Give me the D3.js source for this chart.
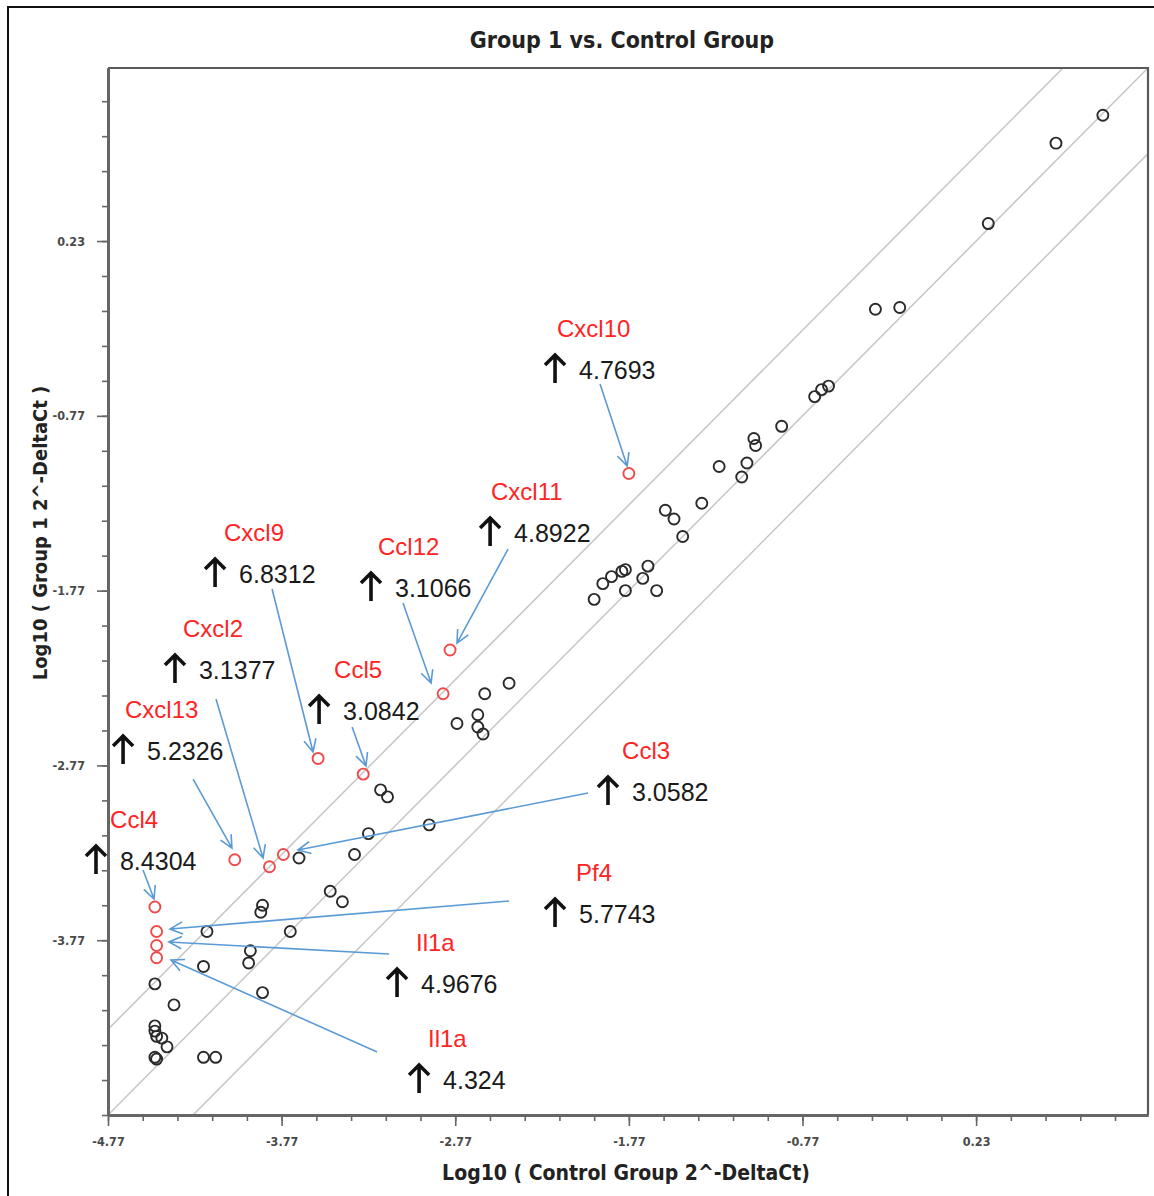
<!DOCTYPE html>
<html>
<head>
<meta charset="utf-8">
<script src="https://cdn.jsdelivr.net/npm/d3@7"></script>
<style>
  body { margin: 0; background: #fff; }
  svg { display: block; }
</style>
</head>
<body>
<svg id="chart" width="1154" height="1196"></svg>
<script>
// ---------------- DATA ----------------
const chartTitle = "Group 1 vs. Control Group";
const xAxisTitle = "Log10 ( Control Group 2^-DeltaCt)";
const yAxisTitle = "Log10 ( Group 1 2^-DeltaCt )";
const axisDomain = [-4.77, 1.22];
const xMajorTickValues = [-4.77, -3.77, -2.77, -1.77, -0.77, 0.23];
const xMajorTickLabels = ["-4.77", "-3.77", "-2.77", "-1.77", "-0.77", "0.23"];
const yMajorTickValues = [-3.77, -2.77, -1.77, -0.77, 0.23];
const yMajorTickLabels = ["-3.77", "-2.77", "-1.77", "-0.77", "0.23"];
const foldBoundary = 0.49; // log10 fold-change boundary lines

// genes without notable change (control log10, group 1 log10)
const controlLog = [0.96,0.69,0.30,-0.35,-0.21,-0.62,-0.66,-0.70,-0.89,-1.05,-1.04,-1.09,-1.25,-1.12,-1.35,-1.56,-1.51,-1.46,-1.66,-1.81,-1.79,-1.87,-1.92,-1.97,-1.79,-1.69,-1.61,-2.46,-2.60,-2.64,-2.76,-2.64,-2.61,-3.20,-3.16,-2.92,-3.27,-3.35,-3.67,-3.49,-3.42,-3.88,-3.89,-4.20,-3.72,-3.95,-3.96,-4.22,-4.50,-3.88,-4.39,-4.50,-4.50,-4.49,-4.46,-4.43,-4.50,-4.49,-4.22,-4.15];
const group1Log  = [0.95,0.79,0.33,-0.16,-0.15,-0.60,-0.62,-0.66,-0.83,-0.90,-0.94,-1.04,-1.06,-1.12,-1.27,-1.31,-1.36,-1.46,-1.63,-1.66,-1.65,-1.69,-1.73,-1.82,-1.77,-1.70,-1.77,-2.30,-2.36,-2.48,-2.53,-2.55,-2.59,-2.91,-2.95,-3.11,-3.16,-3.28,-3.30,-3.49,-3.55,-3.57,-3.61,-3.72,-3.72,-3.83,-3.90,-3.92,-4.02,-4.07,-4.14,-4.26,-4.29,-4.32,-4.33,-4.38,-4.44,-4.45,-4.44,-4.44];

// up-regulated genes
const upGenes       = ["Cxcl10","Cxcl11","Ccl12","Cxcl9","Cxcl2","Ccl5","Cxcl13","Ccl4","Ccl3","Pf4","Il1a","Il1a"];
const upControlLog  = [-1.77,-2.80,-2.84,-3.56,-3.84,-3.30,-4.04,-4.50,-3.76,-4.49,-4.49,-4.49];
const upGroup1Log   = [-1.10,-2.11,-2.36,-2.73,-3.35,-2.82,-3.31,-3.58,-3.28,-3.72,-3.80,-3.87];
const upFoldChange  = ["4.7693","4.8922","3.1066","6.8312","3.1377","3.0842","5.2326","8.4304","3.0582","5.7743","4.9676","4.324"];

// ---------------- ANNOTATION LAYOUT (data units) ----------------
const calloutValueX = [-2.057,-2.431,-3.117,-4.015,-4.246,-3.416,-4.545,-4.701,-1.752,-2.057,-2.967,-2.840];
const calloutValueY = [-0.508,-1.440,-1.755,-1.675,-2.224,-2.459,-2.688,-3.317,-2.922,-3.620,-4.021,-4.570];
const calloutNameX  = [-2.184,-2.564,-3.215,-4.102,-4.338,-3.468,-4.672,-4.758,-1.809,-2.074,-2.996,-2.927];
const leaderStart = [[-1.936,-0.588],[-2.466,-1.532],[-3.071,-1.841],[-3.825,-1.761],[-4.148,-2.390],[-3.364,-2.550],[-4.280,-2.848],[-4.568,-3.368],[-2.005,-2.928],[-2.460,-3.546],[-3.151,-3.849],[-3.220,-4.410]];
const leaderEnd   = [[-1.780,-1.057],[-2.760,-2.070],[-2.909,-2.299],[-3.589,-2.693],[-3.877,-3.300],[-3.284,-2.773],[-4.056,-3.243],[-4.505,-3.534],[-3.676,-3.254],[-4.413,-3.706],[-4.419,-3.780],[-4.407,-3.883]];

// ---------------- DRAW ----------------
const W = 1154, H = 1196;
const plot = { left: 108, right: 1148, top: 68, bottom: 1115 };
const svg = d3.select("#chart");
const condensed = "'DejaVu Sans Condensed', 'DejaVu Sans', sans-serif";
const sans = "'Liberation Sans', Arial, sans-serif";

const xs = d3.scaleLinear().domain(axisDomain).range([plot.left, plot.right]);
const ys = d3.scaleLinear().domain(axisDomain).range([plot.bottom, plot.top]);

// outer frame
svg.append("rect").attr("x", 8).attr("y", 7).attr("width", W).attr("height", H)
  .attr("fill", "none").attr("stroke", "#111").attr("stroke-width", 2);

// title
svg.append("text").attr("x", 622).attr("y", 48).attr("text-anchor", "middle")
  .attr("font-family", condensed).attr("font-weight", "bold").attr("font-size", 23)
  .attr("fill", "#222").text(chartTitle);

// clip
svg.append("defs").append("clipPath").attr("id", "plotclip").append("rect")
  .attr("x", plot.left).attr("y", plot.top)
  .attr("width", plot.right - plot.left).attr("height", plot.bottom - plot.top);

// fold-change diagonal lines
const diag = svg.append("g").attr("clip-path", "url(#plotclip)");
[foldBoundary, 0, -foldBoundary].forEach(off => {
  diag.append("line")
    .attr("x1", xs(-7)).attr("y1", ys(-7 + off))
    .attr("x2", xs(3)).attr("y2", ys(3 + off))
    .attr("stroke", "#c6c6c6").attr("stroke-width", 1.5);
});

// plot frame (top & right)
svg.append("path")
  .attr("d", `M${plot.left},${plot.top}H${plot.right}V${plot.bottom}`)
  .attr("fill", "none").attr("stroke", "#5a5a5a").attr("stroke-width", 2.2);

// axes
const minorTicks = d3.range(0, 31).map(i => +(axisDomain[0] + i * 0.2).toFixed(2)).filter(v => v <= axisDomain[1]);

function styleAxis(g) {
  g.select(".domain").attr("stroke", "#666").attr("stroke-width", 3);
  g.selectAll(".tick line").attr("stroke", "#666").attr("stroke-width", 1.6);
  g.selectAll(".tick text").attr("font-family", condensed).attr("font-weight", "bold")
    .attr("font-size", 12.5).attr("fill", "#4a4a4a");
}

const xg = svg.append("g").attr("transform", `translate(0,${plot.bottom})`);
xg.append("g").call(d3.axisBottom(xs).tickValues(minorTicks).tickSize(6).tickSizeOuter(0).tickFormat("")).call(styleAxis);
xg.append("g").call(d3.axisBottom(xs).tickValues(xMajorTickValues).tickSize(11).tickSizeOuter(0).tickPadding(11)
  .tickFormat(v => xMajorTickLabels[xMajorTickValues.indexOf(v)])).call(styleAxis);

const yg = svg.append("g").attr("transform", `translate(${plot.left},0)`);
yg.append("g").call(d3.axisLeft(ys).tickValues(minorTicks).tickSize(6).tickSizeOuter(0).tickFormat("")).call(styleAxis);
yg.append("g").call(d3.axisLeft(ys).tickValues(yMajorTickValues).tickSize(11).tickSizeOuter(0).tickPadding(12)
  .tickFormat(v => yMajorTickLabels[yMajorTickValues.indexOf(v)])).call(styleAxis);

// axis titles
svg.append("text").attr("x", 626).attr("y", 1180).attr("text-anchor", "middle")
  .attr("font-family", condensed).attr("font-weight", "bold").attr("font-size", 21)
  .attr("fill", "#222").text(xAxisTitle);
svg.append("text").attr("transform", "translate(47,533) rotate(-90)").attr("text-anchor", "middle")
  .attr("font-family", condensed).attr("font-weight", "bold").attr("font-size", 20)
  .attr("fill", "#222").text(yAxisTitle);

// points
const pts = controlLog.map((x, i) => ({ x, y: group1Log[i] }));
svg.append("g").selectAll("circle").data(pts).join("circle")
  .attr("cx", d => xs(d.x)).attr("cy", d => ys(d.y)).attr("r", 5.5)
  .attr("fill", "none").attr("stroke", "#2a2a2a").attr("stroke-width", 1.9);

const ups = upGenes.map((g, i) => ({
  gene: g, x: upControlLog[i], y: upGroup1Log[i], fold: upFoldChange[i],
  vx: calloutValueX[i], vy: calloutValueY[i], nx: calloutNameX[i],
  s: leaderStart[i], e: leaderEnd[i]
}));
svg.append("g").selectAll("circle").data(ups).join("circle")
  .attr("cx", d => xs(d.x)).attr("cy", d => ys(d.y)).attr("r", 5.5)
  .attr("fill", "none").attr("stroke", "#f04a4a").attr("stroke-width", 1.9);

// leaders
const lead = svg.append("g").attr("stroke", "#5b9bd5").attr("stroke-width", 1.6).attr("fill", "none");
ups.forEach(d => {
  const x1 = xs(d.s[0]), y1 = ys(d.s[1]), x2 = xs(d.e[0]), y2 = ys(d.e[1]);
  const ang = Math.atan2(y2 - y1, x2 - x1);
  const L = 14, a = 0.45;
  const hx1 = x2 - L * Math.cos(ang - a), hy1 = y2 - L * Math.sin(ang - a);
  const hx2 = x2 - L * Math.cos(ang + a), hy2 = y2 - L * Math.sin(ang + a);
  lead.append("path").attr("d", `M${x1},${y1}L${x2},${y2}M${hx1},${hy1}L${x2},${y2}L${hx2},${hy2}`);
});

// callout texts
const co = svg.append("g");
ups.forEach(d => {
  const vx = xs(d.vx), vy = ys(d.vy);
  co.append("text").attr("x", xs(d.nx)).attr("y", vy - 42).attr("dy", "0.36em")
    .attr("font-family", sans).attr("font-size", 24).attr("fill", "#ff2424").text(d.gene);
  co.append("text").attr("x", vx).attr("y", vy).attr("dy", "0.36em")
    .attr("font-family", sans).attr("font-size", 25).attr("fill", "#1a1a1a").text(d.fold);
  const cx = vx - 24, top = vy - 15, bot = vy + 13;
  co.append("path")
    .attr("d", `M${cx},${bot}L${cx},${top + 1}M${cx - 10},${top + 10}L${cx},${top}L${cx + 10},${top + 10}`)
    .attr("fill", "none").attr("stroke", "#111").attr("stroke-width", 3.6);
});
</script>
</body>
</html>
